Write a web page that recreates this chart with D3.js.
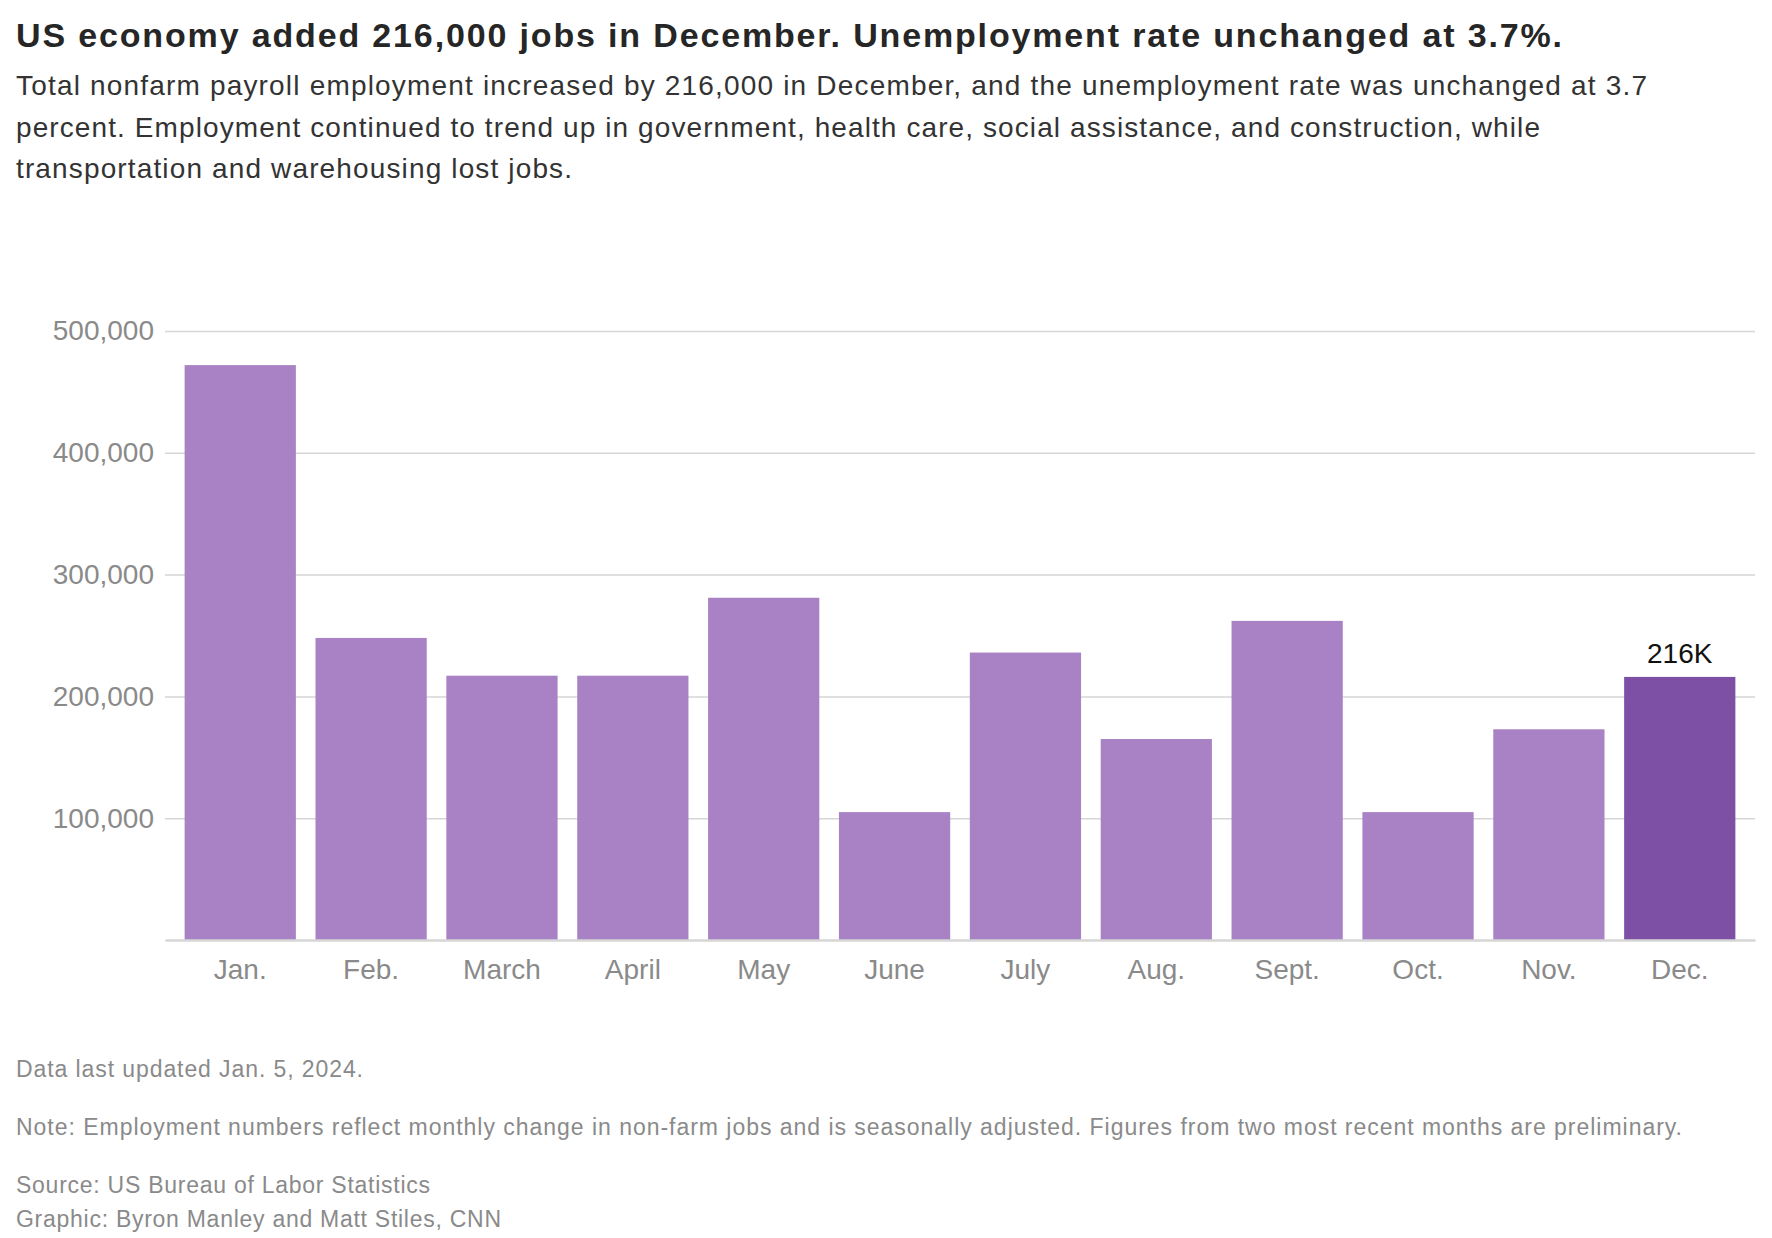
<!DOCTYPE html>
<html>
<head>
<meta charset="utf-8">
<script src="https://cdn.jsdelivr.net/npm/d3@7"></script>
<style>
    body { margin: 0; background: #fff; }
    text { font-family: "Liberation Sans", Arial, sans-serif; }
</style>
</head>
<body>
<div id="jobs_chart"></div>
<script>
// monthly change in nonfarm payrolls, 2023
const months = ["Jan.", "Feb.", "March", "April", "May", "June", "July", "Aug.", "Sept.", "Oct.", "Nov.", "Dec."];
const jobsAdded = [472000, 248000, 217000, 217000, 281000, 105000, 236000, 165000, 262000, 105000, 173000, 216000];
const yTicks = [100000, 200000, 300000, 400000, 500000];
const highlight = "Dec.";
const highlightLabel = "216K";

const title = "US economy added 216,000 jobs in December. Unemployment rate unchanged at 3.7%.";
const subtitle = [
    "Total nonfarm payroll employment increased by 216,000 in December, and the unemployment rate was unchanged at 3.7",
    "percent. Employment continued to trend up in government, health care, social assistance, and construction, while",
    "transportation and warehousing lost jobs."
];
const notes = [
    "Data last updated Jan. 5, 2024.",
    "Note: Employment numbers reflect monthly change in non-farm jobs and is seasonally adjusted. Figures from two most recent months are preliminary.",
    "Source: US Bureau of Labor Statistics",
    "Graphic: Byron Manley and Matt Stiles, CNN"
];

// layout of the text blocks (the original font runs a bit wider, so lines are stretched to fit)
const titleWidth = 1546;
const subtitleWidths = [1631, 1524, 556];
const noteY = [1077, 1135, 1193, 1227];
const noteWidths = [347, 1666, 414, 485];

const W = 1772, H = 1238;
const margin = { top: 331, right: 17, bottom: 298, left: 165 },
    width = W - margin.left - margin.right,
    height = H - margin.top - margin.bottom;

const root = d3.select("#jobs_chart")
    .append("svg")
    .attr("width", W)
    .attr("height", H);

// header
root.append("text")
    .attr("x", 16)
    .attr("y", 47)
    .attr("fill", "#262626")
    .attr("textLength", titleWidth)
    .attr("lengthAdjust", "spacing")
    .style("font-size", "34px")
    .style("font-weight", "bold")
    .text(title);

root.selectAll(".sub")
    .data(subtitle)
    .enter()
    .append("text")
    .attr("class", "sub")
    .attr("x", 16)
    .attr("y", function(d, i) { return 95 + i * 41.5; })
    .attr("textLength", function(d, i) { return subtitleWidths[i]; })
    .attr("lengthAdjust", "spacing")
    .attr("fill", "#333")
    .style("font-size", "28px")
    .text(function(d) { return d; });

const svg = root.append("g")
    .attr("transform", "translate(" + margin.left + "," + margin.top + ")");

// scales
const x = d3.scaleBand()
    .domain(months)
    .range([0, width])
    .paddingInner(0.15)
    .paddingOuter(0.15);

const y = d3.scaleLinear()
    .domain([0, 500000])
    .range([height, 0]);

// gridlines + y labels
const yAxis = svg.append("g")
    .call(d3.axisLeft(y).tickValues(yTicks).tickSize(-width).tickPadding(11)
        .tickFormat(d3.format(",")));
yAxis.select(".domain").remove();
yAxis.selectAll(".tick line").attr("stroke", "#d6d6d6").attr("stroke-width", 1.5);
yAxis.selectAll(".tick text")
    .attr("fill", "#8a8a8a")
    .style("font-size", "28px")
    .style("font-family", "'Liberation Sans', Arial, sans-serif");

// bars
svg.selectAll(".bar")
    .data(months)
    .enter()
    .append("rect")
    .attr("class", "bar")
    .attr("x", function(d) { return x(d); })
    .attr("y", function(d, i) { return y(jobsAdded[i]); })
    .attr("width", x.bandwidth())
    .attr("height", function(d, i) { return height - y(jobsAdded[i]); })
    .attr("fill", function(d) { return d === highlight ? "#7d4fa5" : "#a882c4"; });

// baseline + month labels
const xAxis = svg.append("g")
    .attr("transform", "translate(0," + height + ")")
    .call(d3.axisBottom(x).tickSize(0).tickPadding(19));
xAxis.select(".domain").attr("stroke", "#d6d6d6").attr("stroke-width", 2.5);
xAxis.selectAll(".tick text")
    .attr("fill", "#8a8a8a")
    .style("font-size", "28px")
    .style("font-family", "'Liberation Sans', Arial, sans-serif");

// value label on the latest month
const hi = months.indexOf(highlight);
svg.append("text")
    .attr("x", x(highlight) + x.bandwidth() / 2)
    .attr("y", y(jobsAdded[hi]) - 14)
    .attr("fill", "#111")
    .style("font-size", "28px")
    .style("text-anchor", "middle")
    .text(highlightLabel);

// footer
root.selectAll(".note")
    .data(notes)
    .enter()
    .append("text")
    .attr("class", "note")
    .attr("x", 16)
    .attr("y", function(d, i) { return noteY[i]; })
    .attr("textLength", function(d, i) { return noteWidths[i]; })
    .attr("lengthAdjust", "spacing")
    .attr("fill", "#8a8a8a")
    .style("font-size", "23px")
    .text(function(d) { return d; });
</script>
</body>
</html>
